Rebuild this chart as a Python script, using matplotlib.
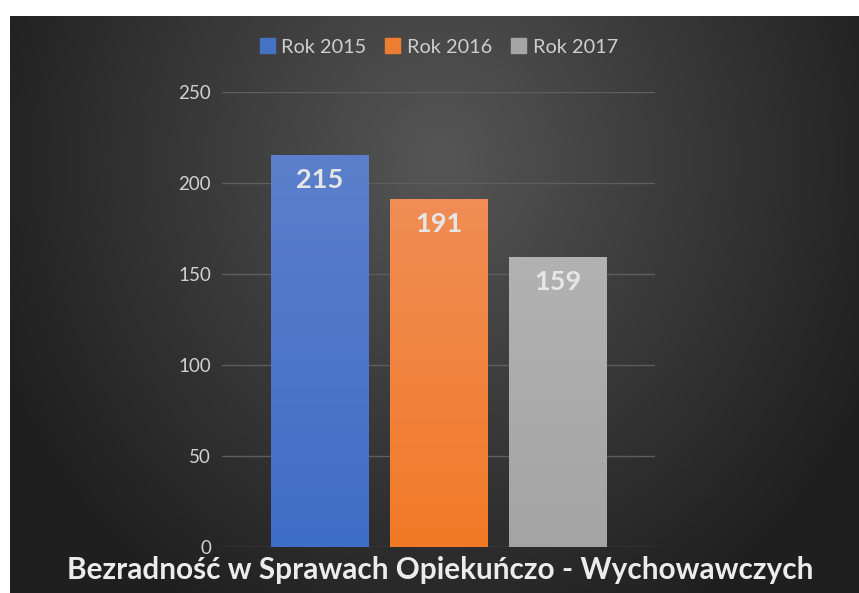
import numpy as np
import matplotlib.pyplot as plt
from matplotlib.colors import LinearSegmentedColormap

# data
series = ['Rok 2015', 'Rok 2016', 'Rok 2017']
values = [215, 191, 159]
yticks = [0, 50, 100, 150, 200, 250]
title = 'Bezradność w Sprawach Opiekuńczo - Wychowawczych'

top_cols = ['#5b7fcb', '#f08d55', '#b2b2b2']
bot_cols = ['#3f6ec6', '#f27a27', '#a4a4a4']
leg_cols = ['#4472c4', '#ed7d31', '#a5a5a5']

W, H = 859, 593
fig = plt.figure(figsize=(W / 100, H / 100), dpi=100)
fig.patch.set_facecolor('white')

# background panel with radial gradient
bg = fig.add_axes([10 / W, 0, (W - 10) / W, (H - 16) / H])
bg.set_axis_off()
yy, xx = np.mgrid[16:H, 10:W]
r = np.sqrt(((xx - 440) / 470.0) ** 2 + ((yy - 160) / 520.0) ** 2)
r = np.clip(r, 0, 1)
bgcmap = LinearSegmentedColormap.from_list('bg', ['#565656', '#3a3a3a', '#202020'])
bg.imshow(r, cmap=bgcmap, aspect='auto', extent=[0, 1, 0, 1], vmin=0, vmax=1)
bg.set_xlim(0, 1)
bg.set_ylim(0, 1)

# main axes
ax = fig.add_axes([222 / W, (H - 547) / H, (655 - 222) / W, (547 - 92) / H])
ax.patch.set_alpha(0)
x = np.arange(len(series)) - 1
bars = ax.bar(x, values, width=0.82, color=leg_cols, zorder=2)

# vertical gradient on each bar
for b, tc, bc in zip(bars, top_cols, bot_cols):
    cm = LinearSegmentedColormap.from_list('g', [bc, tc])
    grad = np.linspace(0, 1, 100).reshape(-1, 1)
    x0, w, h = b.get_x(), b.get_width(), b.get_height()
    ax.imshow(grad, cmap=cm, aspect='auto', origin='lower',
              extent=[x0, x0 + w, 0, h], zorder=3)
    ax.text(x0 + w / 2, h - 13.5, str(h), ha='center', va='center',
            fontsize=19.5, fontweight='bold', family='Lato', color='#e6e6e6', zorder=4)

ax.set_xlim(-1.82, 1.82)
ax.set_ylim(0, 250)
ax.set_yticks(yticks)
ax.set_xticks([])
ax.grid(axis='y', color='#5e5e5e', linewidth=1, zorder=1)
for s in ax.spines.values():
    s.set_visible(False)
ax.tick_params(axis='y', length=0, pad=8, labelsize=13.5, labelcolor='#d2d2d2')
for lb in ax.get_yticklabels():
    lb.set_family('Lato')

# legend
handles = [plt.Rectangle((0, 0), 1, 1, color=c) for c in leg_cols]
leg = fig.legend(handles, series, loc='center', bbox_to_anchor=(439 / W, (H - 47) / H),
                 ncol=3, frameon=False, handlelength=0.75, handleheight=0.75,
                 handletextpad=0.35, columnspacing=0.95,
                 prop={'family': 'Lato', 'size': 14.3})
for t in leg.get_texts():
    t.set_color('#cfcfcf')

# title
fig.text(440 / W, (H - 579) / H, title, ha='center', va='baseline', fontsize=21.4,
         fontweight='bold', family='Lato', color='#ececec')

fig.savefig('out.png', dpi=100)
